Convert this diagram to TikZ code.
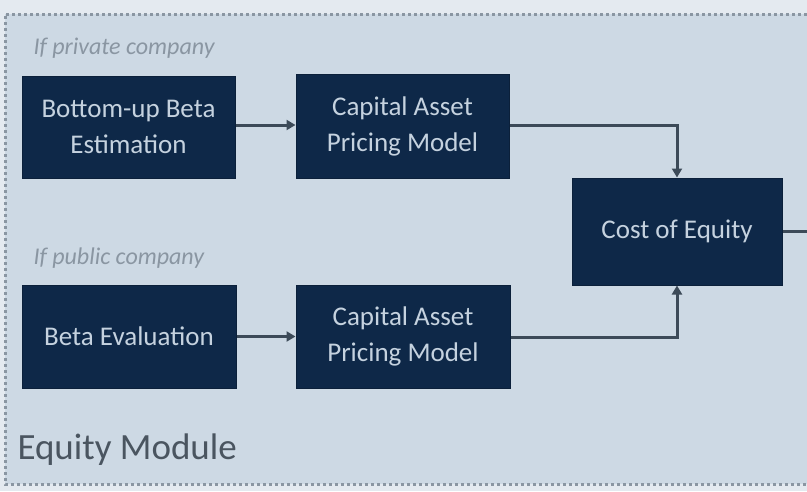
\documentclass[tikz,border=0pt]{standalone}
\usepackage{fontspec}
\setmainfont{Carlito}
\usetikzlibrary{arrows.meta}
\definecolor{bgout}{HTML}{E4EAF0}
\definecolor{bgin}{HTML}{CDD9E4}
\definecolor{navy}{HTML}{0E2848}
\definecolor{boxtext}{HTML}{C5D2DF}
\definecolor{linec}{HTML}{3C4A58}
\definecolor{labc}{HTML}{8A96A2}
\definecolor{titlec}{HTML}{4A5560}
\tikzset{
  box/.style={draw=navy!80!black, fill=navy, text=boxtext, align=center, font=\fontsize{27}{36}\selectfont, inner sep=0pt, line width=1pt},
  conn/.style={draw=linec, line width=3pt, -{Triangle[length=9pt,width=10pt]}},
  lab/.style={text=labc, font=\itshape\fontsize{24}{30}\selectfont, anchor=west},
}
\begin{document}
\begin{tikzpicture}[x=1pt,y=-1pt]
\useasboundingbox (0,0) rectangle (807,491);
\fill[bgout] (0,0) rectangle (807,491);
\fill[bgin] (5,14) rectangle (807,484);
\draw[labc, line width=3pt, dash pattern=on 3pt off 3pt] (807,14) -- (5,14) -- (5,484) -- (807,484);
\node[lab] (lpriv) at (30,48) {If private company};
\node[lab] (lpub) at (30,258) {If public company};
\node[box, minimum width=213pt, minimum height=102pt] (b1) at (128.5,127) {Bottom-up Beta\\Estimation};
\node[box, minimum width=213pt, minimum height=104pt] (c1) at (402.5,126) {Capital Asset\\Pricing Model};
\node[box, minimum width=210pt, minimum height=107pt] (coe) at (677,231.5) {Cost of Equity};
\node[box, minimum width=214pt, minimum height=103pt] (b2) at (129,336.5) {Beta Evaluation};
\node[box, minimum width=214pt, minimum height=103pt] (c2) at (403,336.5) {Capital Asset\\Pricing Model};
\node[text=titlec, font=\fontsize{37}{42}\selectfont, anchor=west] (title) at (14,450) {Equity Module};
\coordinate (out) at (807,231.5);
\draw[conn] (b1.east |- 0,125) -- (c1.west |- 0,125);
\draw[conn] (b2) -- (c2);
\draw[conn] (c1.east |- 0,125) -| (coe.north);
\draw[conn] (c2.east |- 0,337) -| (coe.south);
\draw[draw=linec, line width=3pt] (coe) -- (out);
\end{tikzpicture}
\end{document}
